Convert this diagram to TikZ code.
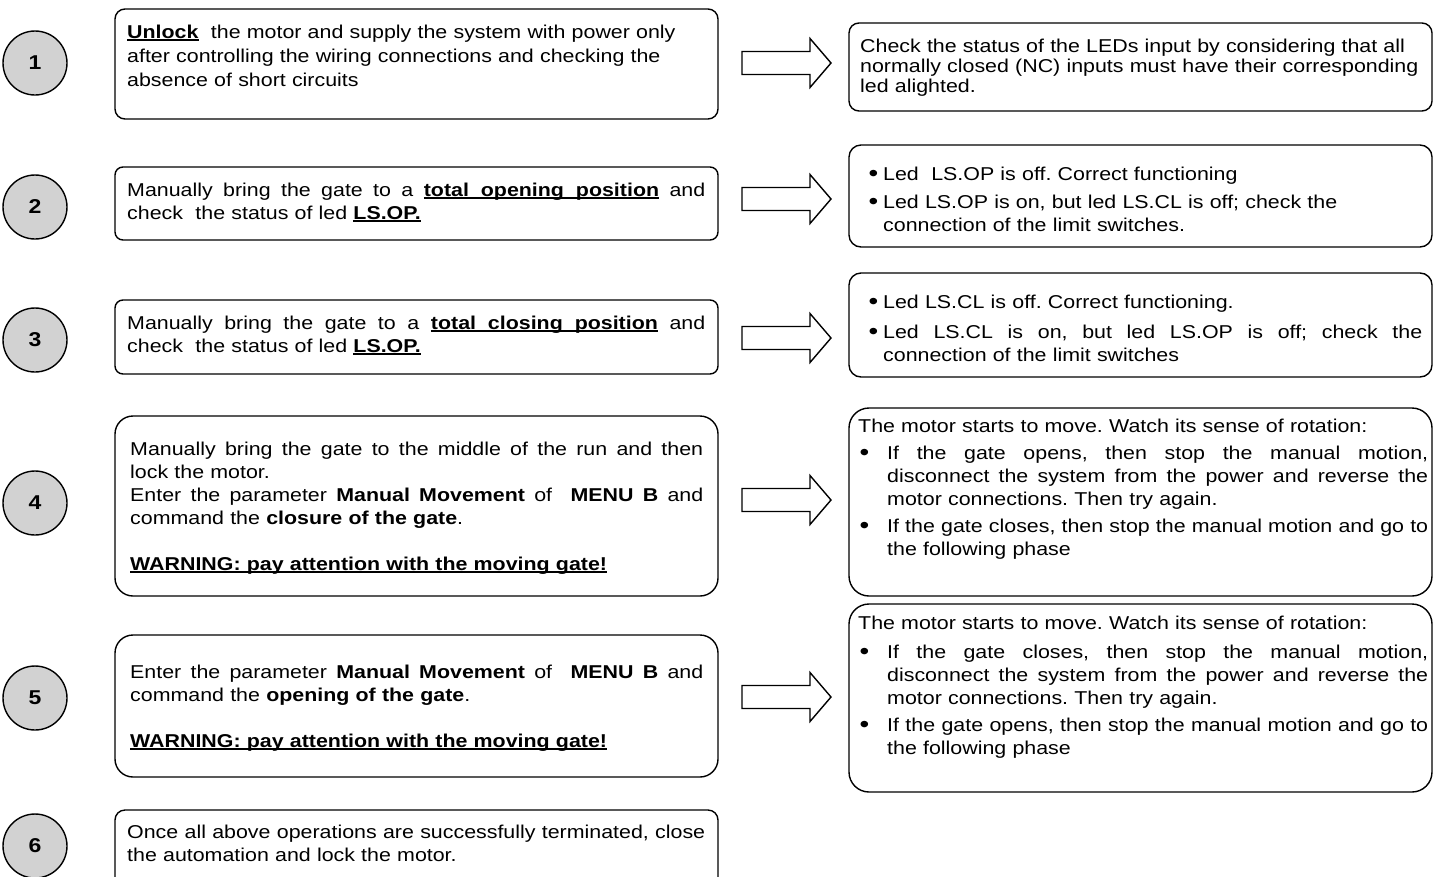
\documentclass[tikz,border=0pt]{standalone}
\usepackage{fontspec}
\setmainfont{Liberation Sans}[FakeStretch=1.15]
\frenchspacing
\newcommand{\J}[2]{\leavevmode\hbox to #1pt{\spaceskip=5.95pt plus 1fil minus 1pt\relax\xspaceskip=\spaceskip #2}}
\newcommand{\ul}[1]{\leavevmode\setbox0\hbox{#1}\rlap{\rule[-2.6pt]{\wd0}{1.5pt}}\box0\relax}
\newcommand{\bul}[1]{\leavevmode\llap{\raisebox{-1.6pt}{\fontsize{24}{24}\selectfont\textbullet}\hspace{#1}}}
\newcommand{\bx}[6]{\node[boxst, rounded corners=#6, minimum width={#4-#2}, minimum height={#5-#3}] (#1) at ({(#2+#4)/2},{(#3+#5)/2}) {};}
\newcommand{\arr}[1]{\draw[blockarrow] (742,#1-11.5) -- (810,#1-11.5) -- (810,#1-24.5) -- (831,#1) -- (810,#1+24.5) -- (810,#1+11.5) -- (742,#1+11.5) -- cycle;}
\newcommand{\txtfont}[1]{\fontsize{18.6}{#1}\selectfont\frenchspacing}
\tikzset{
  boxst/.style={draw, line width=1.4pt, inner sep=0pt, outer sep=0pt},
  num/.style={circle, draw, line width=1.4pt, fill=gray!35, minimum size=64pt, inner sep=0pt,
    font=\bfseries\fontsize{20}{24}\selectfont},
  txt/.style={anchor=base west, inner sep=0pt, align=left, text width=#1,
    font=\txtfont{23}},
  blockarrow/.style={draw, line width=1.4pt, fill=white, line join=miter}
}
\begin{document}
\begin{tikzpicture}[x=1pt, y=-1pt]
\clip (0,0) rectangle (1434,876);
\fill[white] (0,0) rectangle (1434,876);

% numbered circles
\node[num] (c1) at (35,63) {1};
\node[num] (c2) at (35,207) {2};
\node[num] (c3) at (35,340) {3};
\node[num] (c4) at (35,503) {4};
\node[num] (c5) at (35,698) {5};
\node[num] (c6) at (35,846) {6};

% left boxes
\bx{L1}{115}{9}{718}{119}{10}
\bx{L2}{115}{167}{718}{240}{8}
\bx{L3}{115}{300}{718}{374}{8}
\bx{L4}{115}{416}{718}{596}{18}
\bx{L5}{115}{635}{718}{777}{18}
\bx{L6}{115}{810}{718}{900}{10}

% right boxes
\bx{R1}{849}{23}{1432}{111}{10}
\bx{R2}{849}{145}{1432}{247}{12}
\bx{R3}{849}{273}{1432}{377}{12}
\bx{R4}{849}{408}{1432}{596}{20}
\bx{R5}{849}{604}{1432}{792}{20}

% block arrows
\arr{63}
\arr{199}
\arr{338}
\arr{500}
\arr{697}

% left texts
\node[txt=650, font=\txtfont{24}] (L1t) at (127,38)
  {\ul{\textbf{Unlock}}\ \ the motor and supply the system with power only\\after controlling the wiring connections and checking the\\absence of short circuits};
\node[txt=580] (L2t) at (127,196)
  {\J{578}{Manually bring the gate to a \ul{\textbf{total\ \ opening\ \ position}} and}\\check\ \ the status of led \ul{\textbf{LS.OP.}}};
\node[txt=580] (L3t) at (127,329)
  {\J{578}{Manually bring the gate to a \ul{\textbf{total\ \ closing\ \ position}} and}\\check\ \ the status of led \ul{\textbf{LS.OP.}}};
\node[txt=575] (L4t) at (130,455)
  {\J{573}{Manually bring the gate to the middle of the run and then}\\lock the motor.\\\J{573}{Enter the parameter \textbf{Manual Movement} of\ \ \textbf{MENU B} and}\\command the \textbf{closure of the gate}.\\[23pt]\ul{\textbf{WARNING: pay attention with the moving gate!}}};
\node[txt=575] (L5t) at (130,678)
  {\J{573}{Enter the parameter \textbf{Manual Movement} of\ \ \textbf{MENU B} and}\\command the \textbf{opening of the gate}.\\[23pt]\ul{\textbf{WARNING: pay attention with the moving gate!}}};
\node[txt=580] (L6t) at (127,838)
  {\J{578}{Once all above operations are successfully terminated, close}\\the automation and lock the motor.};

% right texts
\node[txt=570, font=\txtfont{20}] (R1t) at (860,52)
  {Check the status of the LEDs input by considering that all\\normally closed (NC) inputs must have their corresponding\\led alighted.};
\node[txt=545] (R2t) at (883,180)
  {\bul{5pt}Led\ \ LS.OP is off. Correct functioning\\[5pt]\bul{5pt}Led LS.OP is on, but led LS.CL is off; check the\\connection of the limit switches.};
\node[txt=541] (R3t) at (883,308)
  {\bul{5pt}Led LS.CL is off. Correct functioning.\\[7pt]\bul{5pt}\J{539}{Led LS.CL is on, but led LS.OP is off; check the}\\connection of the limit switches};
\node[txt=570] (R4h) at (858,432) {The motor starts to move. Watch its sense of rotation:};
\node[txt=543] (R4t) at (887,459)
  {\bul{18pt}\J{541}{If the gate opens, then stop the manual motion,}\\\J{541}{disconnect the system from the power and reverse the}\\motor connections. Then try again.\\[4pt]\bul{18pt}\J{541}{If the gate closes, then stop the manual motion and go to}\\the following phase};
\node[txt=570] (R5h) at (858,629) {The motor starts to move. Watch its sense of rotation:};
\node[txt=543] (R5t) at (887,658)
  {\bul{18pt}\J{541}{If the gate closes, then stop the manual motion,}\\\J{541}{disconnect the system from the power and reverse the}\\motor connections. Then try again.\\[4pt]\bul{18pt}\J{541}{If the gate opens, then stop the manual motion and go to}\\the following phase};
\end{tikzpicture}
\end{document}
